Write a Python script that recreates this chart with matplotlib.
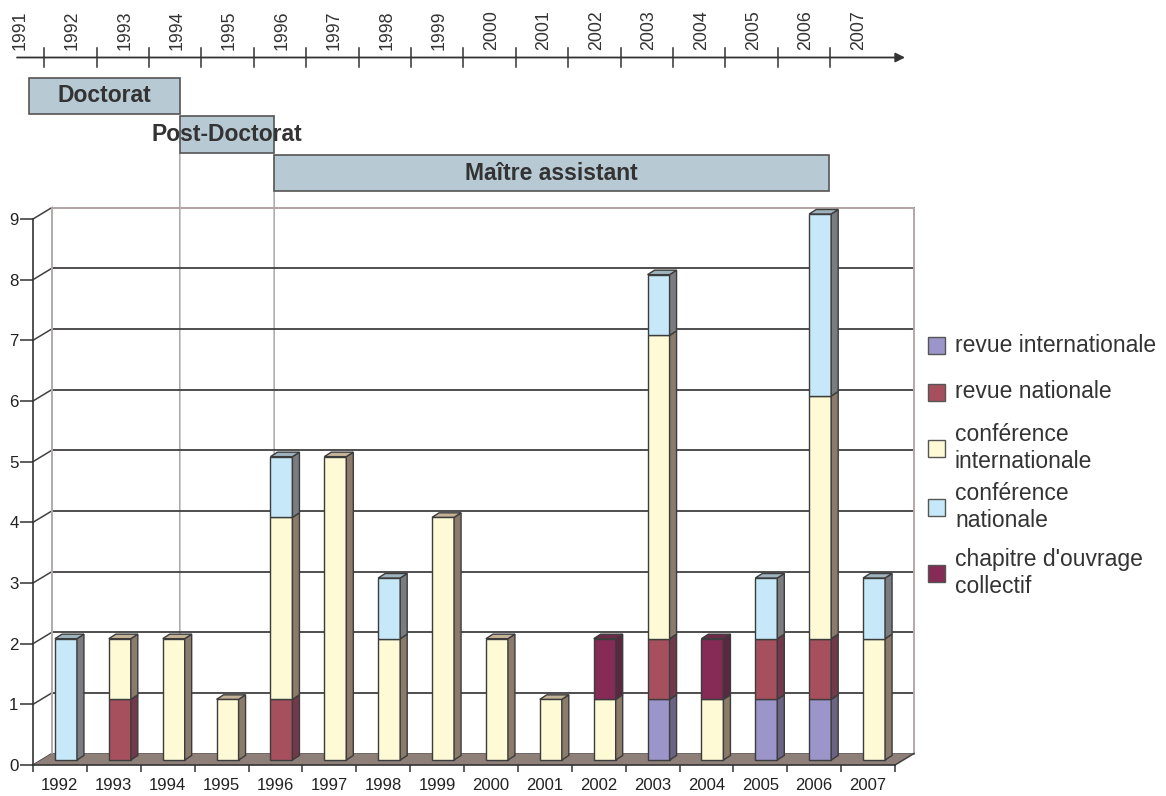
"""Publication record per year (stacked pseudo-3D bars) with a career timeline on top."""

import matplotlib
matplotlib.use("Agg")
import matplotlib.pyplot as plt
from matplotlib.patches import Polygon, Rectangle, ConnectionPatch
from matplotlib.transforms import blended_transform_factory

plt.rcParams['font.family'] = ['Liberation Sans', 'DejaVu Sans']

# ---- data -------------------------------------------------------------
years = [1992, 1993, 1994, 1995, 1996, 1997, 1998, 1999,
         2000, 2001, 2002, 2003, 2004, 2005, 2006, 2007]
revue_int = [0, 0, 0, 0, 0, 0, 0, 0, 0, 0, 0, 1, 0, 1, 1, 0]
revue_nat = [0, 1, 0, 0, 1, 0, 0, 0, 0, 0, 0, 1, 0, 1, 1, 0]
conf_int = [0, 1, 2, 1, 3, 5, 2, 4, 2, 1, 1, 5, 1, 0, 4, 2]
conf_nat = [2, 0, 0, 0, 1, 0, 1, 0, 0, 0, 0, 1, 0, 1, 3, 1]
chapitre = [0, 0, 0, 0, 0, 0, 0, 0, 0, 0, 1, 0, 1, 0, 0, 0]

series_labels = ["revue internationale", "revue nationale",
                 "conférence\ninternationale", "conférence\nnationale",
                 "chapitre d'ouvrage\ncollectif"]

timeline_years = list(range(1991, 2008))
periods = ["Doctorat", "Post-Doctorat", "Maître assistant"]
period_start = [1991.17, 1994.05, 1995.85]
period_end = [1994.05, 1995.85, 2006.44]

# ---- styles -----------------------------------------------------------
FRONT = ['#9B95C9', '#A6505E', '#FFFAD6', '#C6E8F8', '#862A56']
SIDE = ['#6A6384', '#71394A', '#8B7B6B', '#7A7C80', '#5A2742']
TOP = ['#7F79A8', '#8C4452', '#C4B396', '#9EB3BE', '#6D2A48']
EDGE = '#3C3C3C'
WALL = '#B5A8A8'
FLOOR = '#8E7F78'
BOX = '#B7C9D3'
TXT = '#333333'

W, H = 1166, 796


def fx(x):
    return x / W


def fy(y):
    return 1 - y / H


fig = plt.figure(figsize=(W / 100, H / 100), dpi=100)

# ---- main chart -------------------------------------------------------
ax = fig.add_axes([fx(33), fy(765), 862 / W, 546 / H])
ax.set_xlim(-0.5, len(years) - 0.5)
ax.set_ylim(0, 9)
ax.patch.set_visible(False)

x_unit = 862 / len(years)      # px per category
y_unit = 546 / 9               # px per count
DX, DY = 19 / x_unit, 11.5 / y_unit      # depth of the floor / walls
BAR_W = 22 / x_unit
OX, OY = 6 / x_unit, 5 / y_unit          # bar front face inside the depth
SX, SY = 7 / x_unit, 4.5 / y_unit        # bar thickness

x0, x1 = -0.5, len(years) - 0.5
ymax = 9

# back wall, left wall and gridlines
for v in range(ymax + 1):
    ax.plot([x0 + DX, x1 + DX], [v + DY, v + DY], color='#404040',
            lw=1.3, zorder=1.5, clip_on=False)
    ax.plot([x0, x0 + DX], [v, v + DY], color='#404040', lw=1.1,
            zorder=1.5, clip_on=False)
ax.plot([x0 + DX, x1 + DX, x1 + DX], [ymax + DY, ymax + DY, DY],
        color=WALL, lw=1.4, zorder=1.6, clip_on=False)
ax.plot([x0 + DX, x0 + DX], [DY, ymax + DY], color=WALL, lw=1.4,
        zorder=1.6, clip_on=False)

# floor
ax.add_patch(Polygon([(x0, 0), (x1, 0), (x1 + DX, DY), (x0 + DX, DY)],
                     closed=True, facecolor=FLOOR, edgecolor='none',
                     zorder=2, clip_on=False))
ax.plot([x1, x1 + DX], [0, DY], color='#404040', lw=1.1, zorder=2.1,
        clip_on=False)

# stacked bars with side and top faces
stack = [revue_int, revue_nat, conf_int, conf_nat, chapitre]
for i in range(len(years)):
    xl = i - BAR_W / 2 + OX
    xr = xl + BAR_W
    bottom = 0
    last = None
    for k, vals in enumerate(stack):
        v = vals[i]
        if v <= 0:
            continue
        b = bottom + OY
        t = bottom + v + OY
        ax.add_patch(Rectangle((xl, b), BAR_W, v, facecolor=FRONT[k],
                               edgecolor=EDGE, lw=1.0, zorder=3,
                               clip_on=False))
        ax.add_patch(Polygon([(xr, b), (xr + SX, b + SY),
                              (xr + SX, t + SY), (xr, t)], closed=True,
                             facecolor=SIDE[k], edgecolor=EDGE, lw=1.0,
                             zorder=3, clip_on=False))
        bottom += v
        last = k
    if last is not None:
        t = bottom + OY
        ax.add_patch(Polygon([(xl, t), (xl + SX, t + SY),
                              (xr + SX, t + SY), (xr, t)], closed=True,
                             facecolor=TOP[last], edgecolor=EDGE, lw=1.0,
                             zorder=3, clip_on=False))

for side in ('top', 'right'):
    ax.spines[side].set_visible(False)
for side in ('left', 'bottom'):
    ax.spines[side].set_color('#333333')
    ax.spines[side].set_linewidth(1.2)
    ax.spines[side].set_zorder(2.5)

ax.set_yticks(range(ymax + 1))
ax.tick_params(axis='y', direction='out', length=9.4, width=1.1,
               color='#333333', labelsize=12.2, labelcolor='#222222', pad=1)
ax.set_xticks([x + 0.5 for x in range(-1, len(years))])
ax.set_xticklabels([])
ax.set_xticks(range(len(years)), minor=True)
ax.set_xticklabels([str(y) for y in years], minor=True)
ax.tick_params(axis='x', which='major', direction='out', length=5,
               width=1.1, color='#333333')
ax.tick_params(axis='x', which='minor', length=0, labelsize=12,
               labelcolor='#222222', pad=9.5)

# ---- career timeline ---------------------------------------------------
T0_PX, T_STEP = 20, 52.4
ROW0_PX, ROW_STEP = 96, 38.5


def year_at(px):
    return timeline_years[0] + (px - T0_PX) / T_STEP


def row_at(py):
    return (py - ROW0_PX) / ROW_STEP


tl = fig.add_axes([0, fy(200), 1, 200 / H])
tl.set_xlim(year_at(0), year_at(W))
tl.set_ylim(row_at(200), row_at(0))
tl.axis('off')

tl.annotate('', xy=(year_at(905), -1), xytext=(year_at(17), -1),
            arrowprops=dict(arrowstyle='-|>', color=TXT, lw=1.3,
                            mutation_scale=14, shrinkA=0, shrinkB=0))
for yr in timeline_years[:-1]:
    tl.plot([yr + 0.46, yr + 0.46], [-1.25, -0.75], color=TXT, lw=1.1)
for yr in timeline_years:
    tl.text(yr, row_at(50), str(yr), rotation=90, ha='center', va='bottom',
            fontsize=12.8, color=TXT)

for row, (name, s, e) in enumerate(zip(periods, period_start, period_end)):
    tl.add_patch(Rectangle((s, row - 0.48), e - s, 0.96, facecolor=BOX,
                           edgecolor='#555555', lw=1.2, zorder=2))
    tl.text((s + e) / 2, row, name, ha='center', va='center',
            fontsize=16.5, fontweight='bold', color=TXT, zorder=3)

# thin guides from the start of each later period down to the floor
blend = blended_transform_factory(tl.transData, ax.transData)
for row in (1, 2):
    con = ConnectionPatch(xyA=(period_start[row], row + 0.48),
                          coordsA=tl.transData,
                          xyB=(period_start[row], DY), coordsB=blend,
                          color='#A0A0A0', lw=1.0, zorder=1.2)
    con.set_clip_on(False)
    ax.add_artist(con)

# ---- legend -----------------------------------------------------------
legend_y = [345, 392, 448, 507, 573]
for k, (label, cy) in enumerate(zip(series_labels, legend_y)):
    fig.patches.append(Rectangle((fx(928), fy(cy + 8.5)), 17 / W, 17 / H,
                                 transform=fig.transFigure,
                                 facecolor=FRONT[k], edgecolor='#555555',
                                 lw=1.0))
    fig.text(fx(955), fy(cy), label, ha='left', va='center', fontsize=16.5,
             color=TXT, linespacing=1.22)

fig.savefig("out.png", dpi=100)
